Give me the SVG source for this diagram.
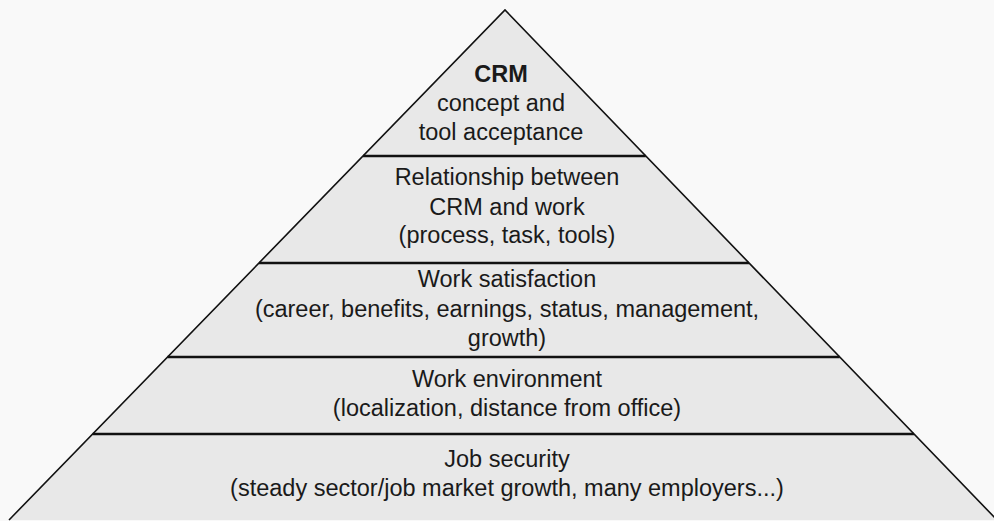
<svg xmlns="http://www.w3.org/2000/svg" width="994" height="521" viewBox="0 0 994 521">
  <style>
    .band { fill: #e8e8e8; stroke: none; }
    .divider { stroke: #111; stroke-width: 2.6; fill: none; }
    .edge { stroke: #111; stroke-width: 1.6; fill: none; stroke-linejoin: miter; }
    .label { font-family: "Liberation Sans", Arial, sans-serif; font-size: 23.5px; fill: #1a1a1a; text-anchor: middle; }
    .bold { font-weight: bold; }
  </style>

  <!-- page -->
  <rect x="0" y="0" width="994" height="521" fill="#f9f9f9"/>

  <!-- level 1: apex -->
  <g id="level-crm-acceptance">
    <polygon class="band" points="505,10 645.8,156 363,156"/>
    <text class="label bold" x="501" y="82">CRM</text>
    <text class="label" x="501" y="111">concept and</text>
    <text class="label" x="501" y="140">tool acceptance</text>
  </g>

  <!-- level 2 -->
  <g id="level-crm-work">
    <polygon class="band" points="363,156 645.8,156 749,263 259,263"/>
    <text class="label" x="507" y="185">Relationship between</text>
    <text class="label" x="507" y="215">CRM and work</text>
    <text class="label" x="507" y="243">(process, task, tools)</text>
  </g>

  <!-- level 3 -->
  <g id="level-work-satisfaction">
    <polygon class="band" points="259,263 749,263 839.7,357 167.5,357"/>
    <text class="label" x="507" y="287">Work satisfaction</text>
    <text class="label" x="507" y="317">(career, benefits, earnings, status, management,</text>
    <text class="label" x="507" y="346">growth)</text>
  </g>

  <!-- level 4 -->
  <g id="level-work-environment">
    <polygon class="band" points="167.5,357 839.7,357 914,434 92.7,434"/>
    <text class="label" x="507" y="387">Work environment</text>
    <text class="label" x="507" y="416">(localization, distance from office)</text>
  </g>

  <!-- level 5: base -->
  <g id="level-job-security">
    <polygon class="band" points="92.7,434 914,434 997,520 9,520"/>
    <text class="label" x="507" y="467">Job security</text>
    <text class="label" x="507" y="496">(steady sector/job market growth, many employers...)</text>
  </g>

  <!-- outline and level dividers -->
  <g id="connectors">
    <polyline class="edge" points="9,520 505,10 997,520"/>
    <line class="divider" x1="363" y1="156" x2="645.8" y2="156"/>
    <line class="divider" x1="259" y1="263" x2="749" y2="263"/>
    <line class="divider" x1="167.5" y1="357" x2="839.7" y2="357"/>
    <line class="divider" x1="92.7" y1="434" x2="914" y2="434"/>
  </g>
</svg>
